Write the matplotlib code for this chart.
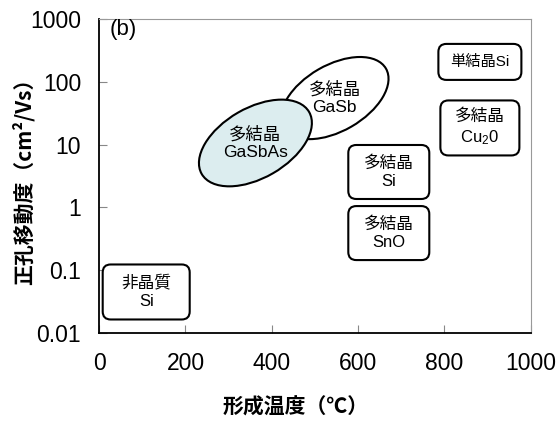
import matplotlib.pyplot as plt
from matplotlib.patches import Ellipse, FancyBboxPatch
from matplotlib.transforms import ScaledTranslation

plt.rcParams['mathtext.fontset'] = 'custom'
plt.rcParams['mathtext.rm'] = 'Liberation Sans'
plt.rcParams['mathtext.it'] = 'Liberation Sans'

jp = ['Noto Sans CJK JP', 'DejaVu Sans']
num = ['Liberation Sans', 'DejaVu Sans']
mixed = ['Liberation Sans', 'Noto Sans CJK JP']

# formation temperature (C) and hole mobility (cm2/Vs) of each material region
box_labels = ['単結晶Si', '多結晶\nCu$_2$0', '多結晶\nSi', '多結晶\nSnO', '非晶質\nSi']
box_temp = [882, 882, 671, 671, 109]
box_mob = [207, 18.4, 3.66, 0.39, 0.045]
box_size = [(0.83, 0.36), (0.79, 0.55), (0.81, 0.54), (0.81, 0.54), (0.87, 0.55)]

ell_labels = ['多結晶\nGaSb', '多結晶\nGaSbAs']
ell_temp = [546, 362]
ell_mob = [55, 10.6]
ell_size = [(1.18, 0.66), (1.24, 0.70)]
ell_fill = ['white', '#dcedef']

xticks = [0, 200, 400, 600, 800, 1000]
yticks = [0.01, 0.1, 1, 10, 100, 1000]
ytick_labels = ['0.01', '0.1', '1', '10', '100', '1000']

fig = plt.figure(figsize=(5.57, 4.21), dpi=100)
ax = fig.add_axes([0.178, 0.209, 0.775, 0.746])
ax.set_xlim(0, 1000)
ax.set_yscale('log')
ax.set_ylim(0.01, 1000)

ax.set_xticks(xticks)
ax.set_xticklabels([str(t) for t in xticks], family=num, fontsize=16.5)
ax.set_yticks(yticks)
ax.set_yticklabels(ytick_labels, family=num, fontsize=16.5)
ax.minorticks_off()
ax.tick_params(direction='in', length=6, color='#888888', pad=13)
ax.tick_params(axis='x', pad=14)

for s in ['top', 'right']:
    ax.spines[s].set_color('#999999')
for s in ['left', 'bottom']:
    ax.spines[s].set_color('black')
    ax.spines[s].set_linewidth(1.3)


def place(x, y):
    # inch-sized shapes anchored at a data point
    return fig.dpi_scale_trans + ScaledTranslation(x, y, ax.transData)


for lab, x, y, (w, h), fc in zip(ell_labels, ell_temp, ell_mob, ell_size, ell_fill):
    ax.add_patch(Ellipse((0, 0), w, h, angle=30, transform=place(x, y),
                         facecolor=fc, edgecolor='black', lw=1.5, zorder=3))
    ax.text(x, y, lab, ha='center', va='center', family=mixed, fontsize=12.5,
            linespacing=1.25, zorder=4)

for lab, x, y, (w, h) in zip(box_labels, box_temp, box_mob, box_size):
    ax.add_patch(FancyBboxPatch((-w / 2 + 0.08, -h / 2 + 0.08), w - 0.16, h - 0.16,
                                boxstyle='round,pad=0.08', transform=place(x, y),
                                facecolor='white', edgecolor='black', lw=1.5, zorder=3))
    ax.text(x, y, lab, ha='center', va='center', family=mixed,
            fontsize=11 if '\n' not in lab else 12, linespacing=1.3, zorder=4)

ax.text(0.025, 1.0, '(b)', transform=ax.transAxes, ha='left', va='top',
        family=num, fontsize=16)

ax.set_xlabel('形成温度（℃）', family=jp, fontsize=15, fontweight='bold')
ax.set_ylabel('正孔移動度（cm²/Vs）', family=jp, fontsize=15, fontweight='bold')
ax.xaxis.set_label_coords(0.456, -0.236)
ax.yaxis.set_label_coords(-0.176, 0.5)
ax.xaxis.label.set_va('center')
ax.yaxis.label.set_va('center')

fig.savefig('out.png', dpi=100)
